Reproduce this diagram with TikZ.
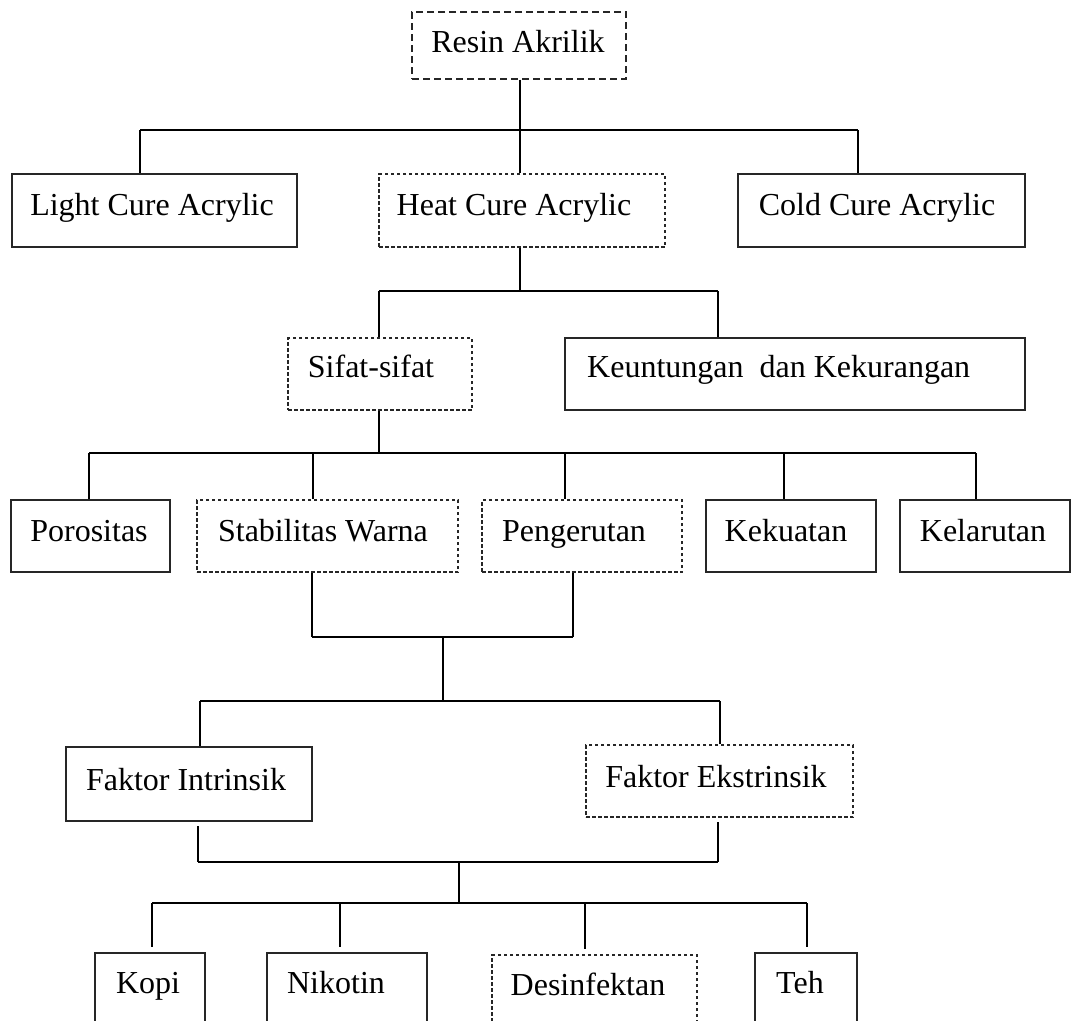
\documentclass[tikz,border=0pt]{standalone}
\usepackage{fontspec}
\setmainfont{Liberation Serif}
\begin{document}
\begin{tikzpicture}[x=1pt,y=-1pt,
  solidbox/.style={draw=black!85,line width=1.5pt,inner sep=0pt},
  dotbox/.style={draw=black!85,line width=1.2pt,inner sep=0pt,dash pattern=on 3.5pt off 2.5pt},
  longdashbox/.style={draw=black!85,line width=1.3pt,inner sep=0pt,dash pattern=on 7pt off 4pt},
  txt/.style={inner sep=0pt,anchor=base,font=\fontsize{32}{36}\selectfont},
  conn/.style={line width=1.5pt},
  bar/.style={line width=2.5pt}]
\clip (0,0) rectangle (1072,1021);
\fill[white] (0,0) rectangle (1072,1021);

% ---------- level 0
\node[longdashbox,minimum width=214pt,minimum height=67pt] (resin) at (519,45.5) {};
\node[txt] (tresin) at (518,52) {Resin Akrilik};

% ---------- level 1
\node[solidbox,minimum width=285pt,minimum height=73pt] (light) at (154.5,210.5) {};
\node[dotbox,minimum width=286pt,minimum height=73pt] (heat) at (522,210.5) {};
\node[solidbox,minimum width=287pt,minimum height=73pt] (cold) at (881.5,210.5) {};
\node[txt] (tlight) at (152,215) {Light Cure Acrylic};
\node[txt] (theat) at (514,215) {Heat Cure Acrylic};
\node[txt] (tcold) at (877,215) {Cold Cure Acrylic};

\coordinate (j0) at (520,130);
\coordinate (b1l) at (140,130);
\coordinate (b1r) at (858,130);
\draw[conn] (resin.south -| j0) -- (j0);
\draw[bar] (b1l) -- (b1r);
\draw[conn] (b1l) -- (b1l |- light.north);
\draw[conn] (j0) -- (j0 |- heat.north);
\draw[conn] (b1r) -- (b1r |- cold.north);

% ---------- level 2
\node[dotbox,minimum width=184pt,minimum height=72pt] (sifat) at (380,374) {};
\node[solidbox,minimum width=460pt,minimum height=72pt] (keun) at (795,374) {};
\node[txt] (tsifat) at (371,377) {Sifat-sifat};
\node[txt,anchor=base west] (tkeun) at (587,377) {Keuntungan\ \ dan Kekurangan};

\coordinate (j1) at (520,291);
\coordinate (b2l) at (379,291);
\coordinate (b2r) at (718,291);
\draw[conn] (heat.south -| j1) -- (j1);
\draw[bar] (b2l) -- (b2r);
\draw[conn] (b2l) -- (b2l |- sifat.north);
\draw[conn] (b2r) -- (b2r |- keun.north);

% ---------- level 3
\node[solidbox,minimum width=159pt,minimum height=72pt] (poro) at (90.5,536) {};
\node[dotbox,minimum width=261pt,minimum height=72pt] (stab) at (327.5,536) {};
\node[dotbox,minimum width=200pt,minimum height=72pt] (peng) at (582,536) {};
\node[solidbox,minimum width=170pt,minimum height=72pt] (kekua) at (791,536) {};
\node[solidbox,minimum width=170pt,minimum height=72pt] (kelar) at (985,536) {};
\node[txt] (tporo) at (89,541) {Porositas};
\node[txt] (tstab) at (323,541) {Stabilitas Warna};
\node[txt] (tpeng) at (574,541) {Pengerutan};
\node[txt] (tkekua) at (786,541) {Kekuatan};
\node[txt] (tkelar) at (983,541) {Kelarutan};

\coordinate (j2) at (379,453);
\coordinate (d1) at (89,453);
\coordinate (d2) at (313,453);
\coordinate (d3) at (565,453);
\coordinate (d4) at (784,453);
\coordinate (d5) at (976,453);
\draw[conn] (sifat.south -| j2) -- (j2);
\draw[bar] (d1) -- (d5);
\draw[conn] (d1) -- (d1 |- poro.north);
\draw[conn] (d2) -- (d2 |- stab.north);
\draw[conn] (d3) -- (d3 |- peng.north);
\draw[conn] (d4) -- (d4 |- kekua.north);
\draw[conn] (d5) -- (d5 |- kelar.north);

% ---------- merge of Stabilitas Warna and Pengerutan
\coordinate (m1) at (312,637);
\coordinate (m2) at (573,637);
\coordinate (m3) at (443,637);
\coordinate (m4) at (443,701);
\coordinate (b4l) at (200,701);
\coordinate (b4r) at (720,701);
\draw[conn] (stab.south -| m1) -- (m1);
\draw[conn] (peng.south -| m2) -- (m2);
\draw[bar] (m1) -- (m2);
\draw[line width=1.1pt] (m3) -- (m4);
\draw[bar] (b4l) -- (b4r);

% ---------- level 4
\node[solidbox,minimum width=246pt,minimum height=74pt] (fi) at (189,784) {};
\node[dotbox,minimum width=267pt,minimum height=72pt] (fe) at (719.5,781) {};
\node[txt] (tfi) at (186,790) {Faktor Intrinsik};
\node[txt] (tfe) at (716,787) {Faktor Ekstrinsik};
\draw[conn] (b4l) -- (b4l |- fi.north);
\draw[conn] (b4r) -- (b4r |- fe.north);

% ---------- merge of the factors
\coordinate (f1) at (198,826);
\coordinate (f2) at (718,822);
\coordinate (g1) at (198,862);
\coordinate (g2) at (718,862);
\coordinate (g3) at (459,862);
\coordinate (g4) at (459,903);
\draw[conn] (f1) -- (g1);
\draw[conn] (f2) -- (g2);
\draw[bar] (g1) -- (g2);
\draw[conn] (g3) -- (g4);

% ---------- level 5
\node[solidbox,minimum width=110pt,minimum height=87pt] (kopi) at (150,996.5) {};
\node[solidbox,minimum width=160pt,minimum height=87pt] (nik) at (347,996.5) {};
\node[dotbox,minimum width=205pt,minimum height=85pt] (desi) at (594.5,997.5) {};
\node[solidbox,minimum width=102pt,minimum height=87pt] (teh) at (806,996.5) {};
\node[txt] (tkopi) at (148,993) {Kopi};
\node[txt] (tnik) at (336,993) {Nikotin};
\node[txt] (tdesi) at (588,995) {Desinfektan};
\node[txt] (tteh) at (800,993) {Teh};

\coordinate (h1) at (152,903);
\coordinate (h2) at (340,903);
\coordinate (h3) at (585,903);
\coordinate (h4) at (807,903);
\draw[bar] (h1) -- (h4);
\draw[conn] (h1) -- ([yshift=5pt]h1 |- kopi.north);
\draw[conn] (h2) -- ([yshift=5pt]h2 |- nik.north);
\draw[conn] (h3) -- ([yshift=5pt]h3 |- desi.north);
\draw[conn] (h4) -- ([yshift=5pt]h4 |- teh.north);
\end{tikzpicture}
\end{document}
